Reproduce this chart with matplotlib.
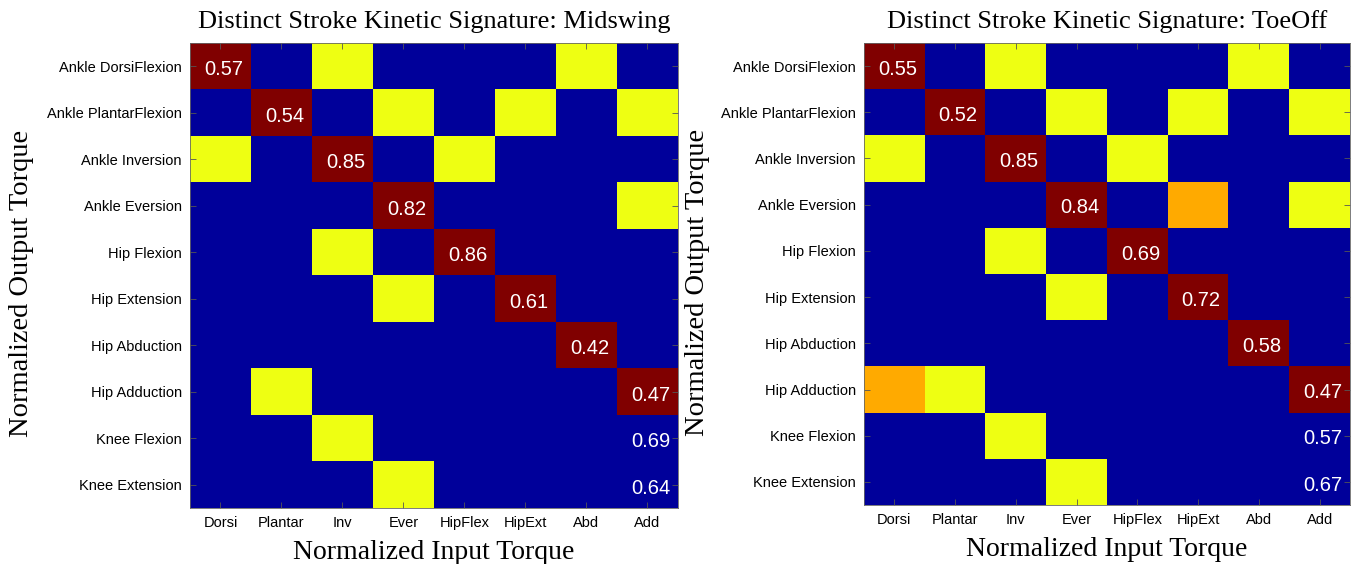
import matplotlib
matplotlib.use("Agg")
import matplotlib.pyplot as plt
from matplotlib.colors import ListedColormap, BoundaryNorm
import numpy as np

output_labels = ["Ankle DorsiFlexion", "Ankle PlantarFlexion", "Ankle Inversion",
                 "Ankle Eversion", "Hip Flexion", "Hip Extension", "Hip Abduction",
                 "Hip Adduction", "Knee Flexion", "Knee Extension"]
input_labels = ["Dorsi", "Plantar", "Inv", "Ever", "HipFlex", "HipExt", "Abd", "Add"]

# level codes: 0 = none (blue), 1 = yellow, 2 = orange, 3 = strongest (dark red)
midswing_levels = [
    [3, 0, 1, 0, 0, 0, 1, 0],
    [0, 3, 0, 1, 0, 1, 0, 1],
    [1, 0, 3, 0, 1, 0, 0, 0],
    [0, 0, 0, 3, 0, 0, 0, 1],
    [0, 0, 1, 0, 3, 0, 0, 0],
    [0, 0, 0, 1, 0, 3, 0, 0],
    [0, 0, 0, 0, 0, 0, 3, 0],
    [0, 1, 0, 0, 0, 0, 0, 3],
    [0, 0, 1, 0, 0, 0, 0, 0],
    [0, 0, 0, 1, 0, 0, 0, 0],
]
toeoff_levels = [
    [3, 0, 1, 0, 0, 0, 1, 0],
    [0, 3, 0, 1, 0, 1, 0, 1],
    [1, 0, 3, 0, 1, 0, 0, 0],
    [0, 0, 0, 3, 0, 2, 0, 1],
    [0, 0, 1, 0, 3, 0, 0, 0],
    [0, 0, 0, 1, 0, 3, 0, 0],
    [0, 0, 0, 0, 0, 0, 3, 0],
    [2, 1, 0, 0, 0, 0, 0, 3],
    [0, 0, 1, 0, 0, 0, 0, 0],
    [0, 0, 0, 1, 0, 0, 0, 0],
]

# annotated values: (row, column, value)
annot_rows = [0, 1, 2, 3, 4, 5, 6, 7, 8, 9]
annot_cols = [0, 1, 2, 3, 4, 5, 6, 7, 7, 7]
midswing_values = [0.57, 0.54, 0.85, 0.82, 0.86, 0.61, 0.42, 0.47, 0.69, 0.64]
toeoff_values = [0.55, 0.52, 0.85, 0.84, 0.69, 0.72, 0.58, 0.47, 0.57, 0.67]

titles = ["Distinct Stroke Kinetic Signature: Midswing",
          "Distinct Stroke Kinetic Signature: ToeOff"]

cmap = ListedColormap(["#00009A", "#EEFF12", "#FFAA00", "#800000"])
norm = BoundaryNorm([-0.5, 0.5, 1.5, 2.5, 3.5], cmap.N)

sans = ["Liberation Sans Narrow", "Liberation Sans", "DejaVu Sans"]
serif = ["Liberation Serif", "DejaVu Serif"]

fig = plt.figure(figsize=(13.54, 5.64), dpi=100)
W, H = 1354, 564
rects = [(190, 43, 678, 508), (864, 43, 1350, 505)]
ylabel_x = [22, 697]

for k, (levels, values, title) in enumerate(
        [(midswing_levels, midswing_values, titles[0]),
         (toeoff_levels, toeoff_values, titles[1])]):
    x0, y0, x1, y1 = rects[k]
    ax = fig.add_axes([x0 / W, 1 - y1 / H, (x1 - x0) / W, (y1 - y0) / H])
    ax.imshow(np.array(levels), cmap=cmap, norm=norm, aspect="auto",
              interpolation="nearest")
    for r, c, v in zip(annot_rows, annot_cols, values):
        ax.text(c + 0.05, r + 0.07, f"{v:.2f}", color="white", ha="center",
                va="center", fontsize=14.5, family=["Liberation Sans", "DejaVu Sans"])
    ax.set_xticks(range(len(input_labels)))
    ax.set_xticklabels(input_labels, fontsize=10.5, family=sans)
    ax.set_yticks(range(len(output_labels)))
    ax.set_yticklabels(output_labels, fontsize=10.5, family=sans)
    ax.tick_params(direction="in", length=4, width=0.6, color="#555555",
                   top=True, right=True, pad=6)
    for s in ax.spines.values():
        s.set_color("#666666")
        s.set_linewidth(0.6)
    ax.set_title(title, fontsize=19, family=serif, pad=11)
    ax.set_xlabel("Normalized Input Torque", fontsize=20, family=serif, labelpad=7)
    fig.text(ylabel_x[k] / W, 1 - ((y0 + y1) / 2 + 8) / H, "Normalized Output Torque",
             rotation=90, ha="center", va="center", fontsize=20.5, family=serif)

fig.savefig("out.png", dpi=100)
